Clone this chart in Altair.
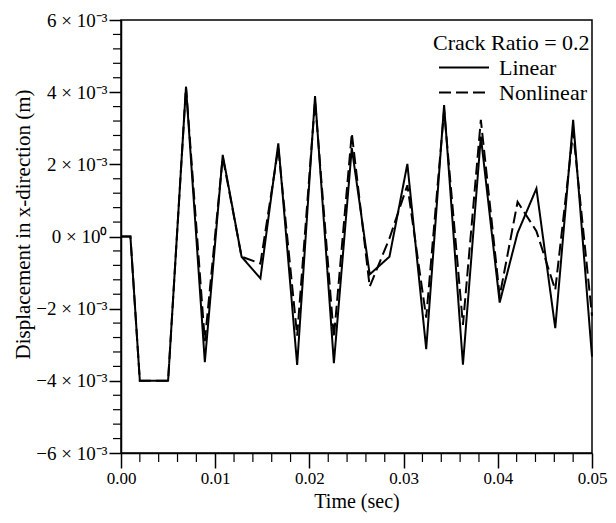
import altair as alt
import pandas as pd

# Time (s)
time_s = [0.0, 0.001, 0.002, 0.005, 0.0069, 0.0089, 0.0108, 0.0128, 0.0148, 0.0167,
          0.0187, 0.0206, 0.0226, 0.0245, 0.0264, 0.0285, 0.0304, 0.0324, 0.0343,
          0.0363, 0.0382, 0.0402, 0.0421, 0.0441, 0.0461, 0.0480, 0.0500]
# Displacement, in units of 1e-3 m
linear_mm = [0.0, 0.0, -4.0, -4.0, 4.15, -3.48, 2.26, -0.56, -1.16, 2.58,
             -3.56, 3.89, -3.51, 2.45, -1.05, -0.56, 2.01, -3.12, 3.64,
             -3.55, 2.77, -1.83, 0.1, 1.33, -2.54, 3.23, -3.33]
nonlinear_mm = [0.0, 0.0, -4.0, -4.0, 4.15, -2.9, 2.2, -0.56, -0.75, 2.45,
                -2.75, 3.75, -2.8, 2.86, -1.39, -0.05, 1.42, -2.25, 3.5,
                -2.45, 3.23, -1.65, 0.96, 0.15, -1.48, 2.9, -2.2]
series_names = ["Linear", "Nonlinear"]

x_major = [0.0, 0.01, 0.02, 0.03, 0.04, 0.05]
x_minor = [0.002, 0.004, 0.006, 0.008, 0.012, 0.014, 0.016, 0.018, 0.022, 0.024,
           0.026, 0.028, 0.032, 0.034, 0.036, 0.038, 0.042, 0.044, 0.046, 0.048]
y_major = [-6, -4, -2, 0, 2, 4, 6]
y_minor = [-5.6, -5.2, -4.8, -4.4, -3.6, -3.2, -2.8, -2.4, -1.6, -1.2, -0.8, -0.4,
           0.4, 0.8, 1.2, 1.6, 2.4, 2.8, 3.2, 3.6, 4.4, 4.8, 5.2, 5.6]

rows = []
for t, a in zip(time_s, linear_mm):
    rows.append({"t": t, "v": a, "series": series_names[0]})
for t, b in zip(time_s, nonlinear_mm):
    rows.append({"t": t, "v": b, "series": series_names[1]})
df = pd.DataFrame(rows)

FONT = "Liberation Serif"

xscale = alt.Scale(domain=[0, 0.05], nice=False, zero=False)
yscale = alt.Scale(domain=[-6, 6], nice=False, zero=False)

ylabel = ("datum.value == 0 ? '0 × 10⁰' : (datum.value < 0 ? '−' : '') + "
          "format(abs(datum.value), 'd') + ' × 10⁻³'")

lines = alt.Chart(df).mark_line(strokeWidth=2, color="black").encode(
    x=alt.X("t:Q", scale=xscale,
            axis=alt.Axis(values=x_major, format=".2f", title="Time (sec)",
                          tickSize=15, labelPadding=2, titlePadding=5, grid=False,
                          labelFlush=False, labelFontSize=17, titleFontSize=20)),
    y=alt.Y("v:Q", scale=yscale,
            axis=alt.Axis(values=y_major, labelExpr=ylabel,
                          title="Displacement in x-direction (m)",
                          tickSize=12, labelPadding=2, titlePadding=2, grid=False,
                          labelFlush=False, labelFontSize=19, titleFontSize=21,
                          titleY=204)),
    strokeDash=alt.StrokeDash(
        "series:N",
        scale=alt.Scale(domain=series_names, range=[[1, 0], [12, 5]]),
        legend=alt.Legend(title="Crack Ratio = 0.2", orient="none",
                          legendX=312, legendY=13, symbolType="stroke",
                          symbolSize=2500, symbolStrokeWidth=2,
                          symbolStrokeColor="black", labelOffset=9,
                          symbolOffset=5, clipHeight=25, rowPadding=0,
                          titlePadding=0, titleFontSize=22, labelFontSize=22)),
    detail="series:N",
)

xminor = alt.Chart(pd.DataFrame({"t": x_minor})).mark_rule(
    color="black", strokeWidth=1.2).encode(
    x=alt.X("t:Q", scale=xscale), y=alt.value(433), y2=alt.value(442))

yminor = alt.Chart(pd.DataFrame({"v": y_minor})).mark_rule(
    color="black", strokeWidth=1.2).encode(
    y=alt.Y("v:Q", scale=yscale), x=alt.value(-8), x2=alt.value(0))

chart = alt.layer(lines, xminor, yminor).properties(
    width=471, height=433,
    padding={"left": 113, "top": 12, "right": 16, "bottom": 62},
    autosize=alt.AutoSizeParams(type="none"),
    background="white",
).configure_view(stroke="black", strokeWidth=1.5).configure_axis(
    labelFont=FONT, titleFont=FONT,
    titleFontWeight="normal", labelColor="black", titleColor="black",
    domainColor="black", domainWidth=1.5, tickColor="black", tickWidth=1.5,
).configure_legend(
    titleFont=FONT, labelFont=FONT,
    titleFontWeight="normal", titleColor="black", labelColor="black",
)

chart.save("out.html", embed_options={"renderer": "svg", "actions": False})
